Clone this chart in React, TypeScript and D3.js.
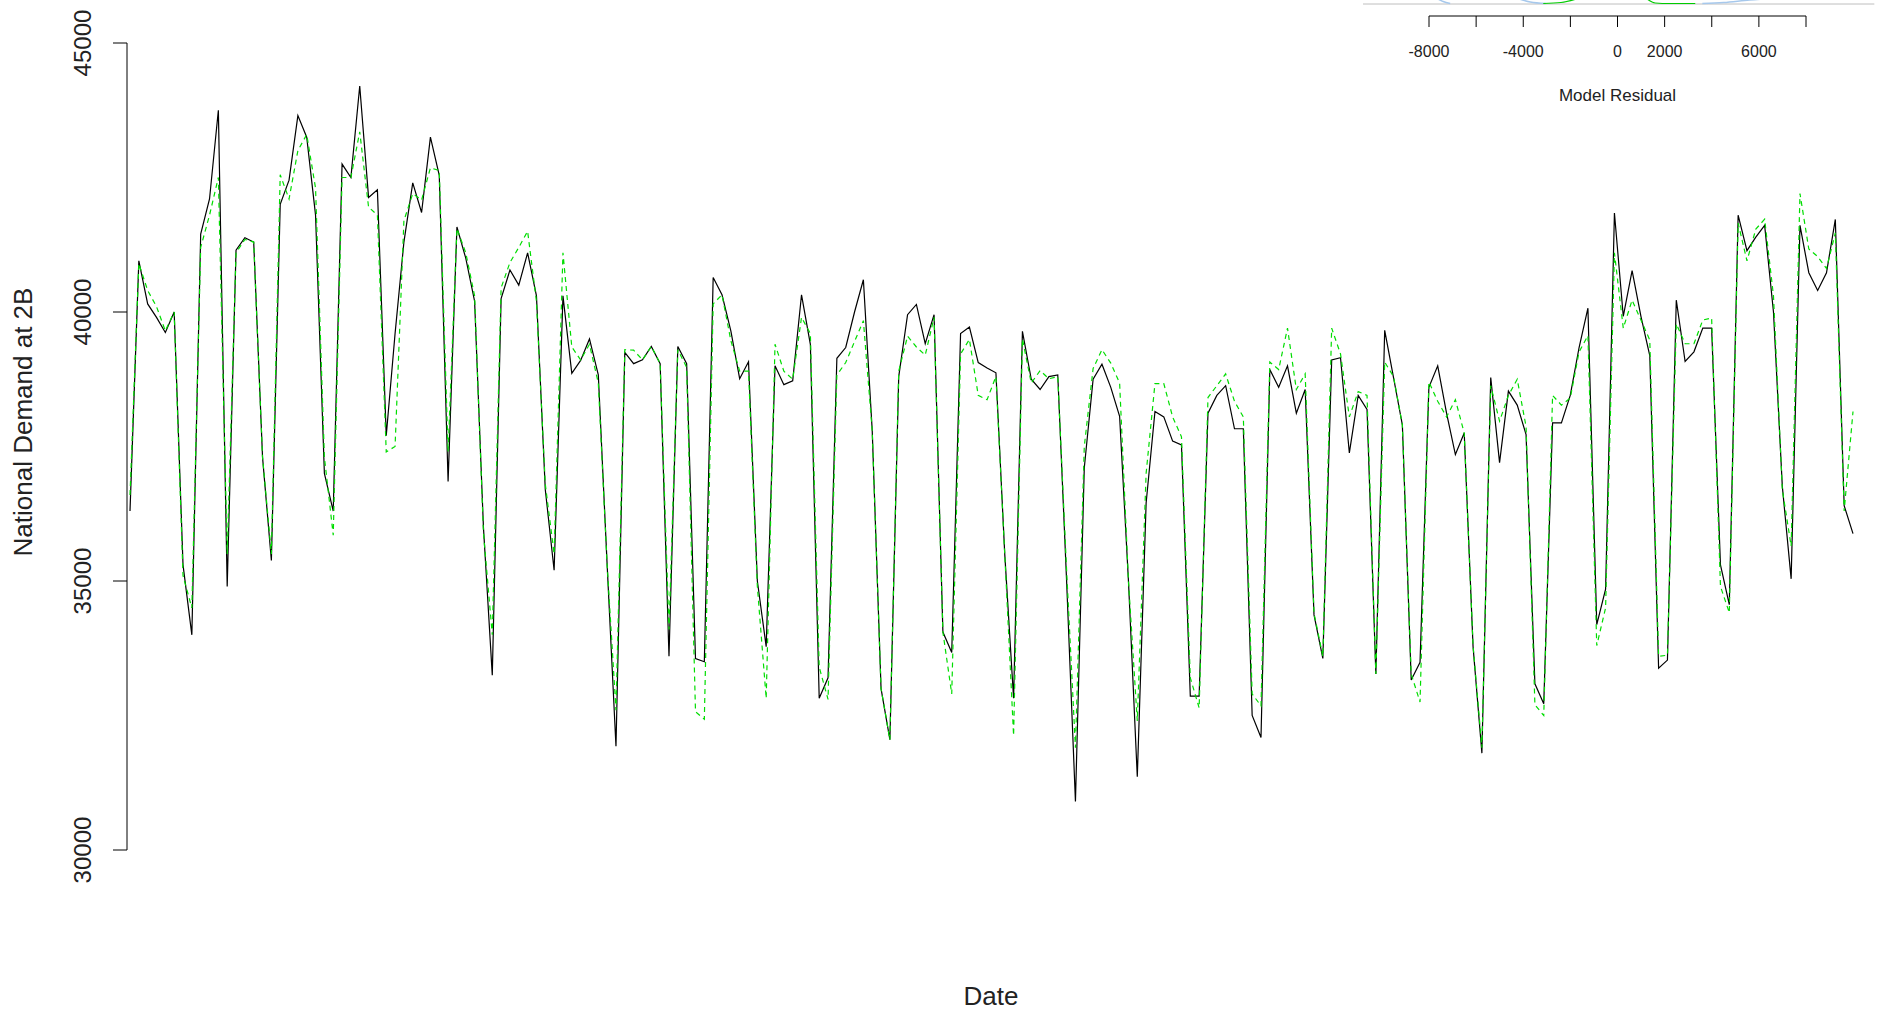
import React from "react";
import * as d3 from "d3";

// National demand (actual) per observation index
const actual: number[] = [
  36300, 40950, 40150, 39900, 39620, 40000, 35300, 34000, 41450, 42100,
  43750, 34900, 41150, 41380, 41300, 37300, 35380, 42000, 42450, 43650,
  43250, 41800, 37000, 36300, 42750, 42500, 44200, 42130, 42270, 37700,
  39600, 41300, 42400, 41850, 43250, 42540, 36850, 41580, 41000, 40200,
  36000, 33250, 40250, 40780, 40500, 41100, 40300, 36700, 35200, 40300,
  38860, 39100, 39500, 38830, 35300, 31930, 39250, 39040, 39110, 39360,
  39040, 33600, 39360, 39040, 33560, 33500, 40640, 40320, 39650, 38760,
  39075, 35000, 33780, 39000, 38650, 38720, 40320, 39400, 32820, 33200,
  39140, 39340, 40000, 40600, 37800, 33000, 32050, 38800, 39950, 40140,
  39410, 39950, 34050, 33670, 39600, 39720, 39060, 38960, 38870, 35500,
  32820, 39640, 38750, 38560, 38800, 38830, 35000, 30900, 37100, 38750,
  39030, 38600, 38060, 35000, 31360, 36450, 38150, 38050, 37600, 37530,
  32860, 32860, 38120, 38450, 38630, 37830, 37830, 32500, 32090, 38930,
  38600, 39000, 38120, 38560, 34370, 33560, 39110, 39150, 37380, 38450,
  38190, 33270, 39660, 38780, 37900, 33160, 33490, 38600, 39000, 38120,
  37350, 37750, 33780, 31800, 38780, 37200, 38530, 38270, 37720, 33090,
  32720, 37940, 37940, 38450, 39340, 40070, 34190, 34850, 41840, 39920,
  40770, 39920, 39190, 33380, 33530, 40220, 39080, 39260, 39700, 39700,
  35300, 34560, 41800, 41140, 41390, 41610, 40000, 36760, 35040, 41610,
  40730, 40400, 40730, 41720, 36400, 35880,
];

// Model fitted values per observation index
const fitted: number[] = [
  36600, 40900, 40400, 40100, 39650, 40000, 35100, 34500, 41200, 41800,
  42500, 35500, 41100, 41350, 41300, 37300, 35500, 42550, 42100, 43000,
  43300, 42300, 37300, 35850, 42500, 42500, 43350, 41950, 41800, 37400,
  37500, 41700, 42200, 42080, 42680, 42630, 37400, 41550, 41100, 40300,
  35900, 34000, 40450, 40920, 41200, 41500, 40200, 36800, 35500, 41100,
  39350, 39110, 39400, 38680, 35300, 32600, 39300, 39290, 39110, 39360,
  39040, 34100, 39300, 38970, 32570, 32430, 40150, 40320, 39470, 38900,
  38900, 34900, 32820, 39400, 38900, 38750, 39900, 39600, 33400, 32800,
  38830, 39060, 39450, 39840, 37800, 33000, 32050, 38900, 39550, 39350,
  39200, 39900, 34050, 32900, 39220, 39490, 38450, 38370, 38800, 35500,
  32130, 39500, 38680, 38910, 38760, 38800, 35200, 31900, 37500, 38950,
  39300, 39050, 38680, 35000, 32400, 37000, 38670, 38670, 38050, 37680,
  33200, 32640, 38410, 38630, 38850, 38340, 38050, 32900, 32680, 39070,
  38930, 39700, 38560, 38850, 34400, 33600, 39700, 39220, 38050, 38520,
  38450, 33270, 39070, 38800, 37900, 33270, 32750, 38700, 38340, 38050,
  38370, 37750, 33800, 31900, 38630, 37970, 38450, 38750, 37870, 32700,
  32500, 38450, 38270, 38400, 39260, 39560, 33800, 34500, 41100, 39700,
  40220, 39850, 39480, 33600, 33620, 39780, 39410, 39410, 39850, 39890,
  34900, 34410, 41650, 40950, 41540, 41725, 40300, 36700, 35650, 42200,
  41170, 41030, 40810, 41470, 36300, 38150,
];

const yTicks: number[] = [30000, 35000, 40000, 45000];

// Inset: residual density axis
const residTicks: number[] = [-8000, -6000, -4000, -2000, 0, 2000, 4000, 6000, 8000];
const residLabels: number[] = [-8000, -4000, 0, 2000, 6000];
const residFrame: number[] = [-10800, 10900];
// visible tails of density curves just above the zero line (residual, density)
const blueTail1: [number, number][] = [[-7700, 0.0000012], [-7400, 0.0000005], [-7100, 0.0000001]];
const blueTail2: [number, number][] = [[-4300, 0.0000012], [-3700, 0.0000004], [-3050, 0.0000001]];
const blueTail3: [number, number][] = [[3600, 0.0000001], [4500, 0.0000003], [5600, 0.0000008], [7000, 0.0000012]];
const greenTail1: [number, number][] = [[-3150, 0.0000001], [-2400, 0.0000003], [-1600, 0.0000012]];
const greenTail2: [number, number][] = [[1200, 0.0000012], [1600, 0.0000002], [2200, 0.0000001], [3300, 0.0000001]];

const FONT = "'Liberation Sans', Arial, Helvetica, sans-serif";

export default function App() {
  const x = d3.scaleLinear().domain([0, actual.length - 1]).range([130, 1853]);
  const y = d3.scaleLinear().domain([30000, 45000]).range([850, 43]);
  const line = d3
    .line<number>()
    .x((_, i) => x(i))
    .y((d) => y(d));

  const rx = d3.scaleLinear().domain([-8000, 8000]).range([1429, 1806]);
  const dy = d3.scaleLinear().domain([0, 0.0000012]).range([4, -2]);
  const dline = d3
    .line<[number, number]>()
    .x((d) => rx(d[0]))
    .y((d) => dy(d[1]))
    .curve(d3.curveMonotoneX);

  return (
    <svg
      width={1878}
      height={1013}
      style={{ position: "fixed", left: 0, top: 0, background: "#fff" }}
      fontFamily={FONT}
    >
      <rect x={0} y={0} width={1878} height={1013} fill="#fff" />
      {/* Y axis */}
      <line x1={127} x2={127} y1={y(45000)} y2={y(30000)} stroke="#000" strokeWidth={1} />
      {yTicks.map((t) => (
        <g key={t}>
          <line x1={113} x2={127} y1={y(t)} y2={y(t)} stroke="#000" strokeWidth={1} />
          <text
            transform={`translate(91,${y(t)}) rotate(-90)`}
            textAnchor="middle"
            fontSize={24}
            fill="#222"
          >
            {t}
          </text>
        </g>
      ))}
      <text
        transform={`translate(32,422) rotate(-90)`}
        textAnchor="middle"
        fontSize={26}
        fill="#222"
      >
        National Demand at 2B
      </text>
      <text x={991} y={1005} textAnchor="middle" fontSize={26} fill="#222">
        Date
      </text>

      {/* series */}
      <path d={line(actual) ?? ""} fill="none" stroke="#000" strokeWidth={1.2} />
      <path
        d={line(fitted) ?? ""}
        fill="none"
        stroke="#00dd00"
        strokeWidth={1.2}
        strokeDasharray="5,4"
      />

      {/* Inset density plot (top cut off) */}
      <line
        x1={rx(residFrame[0])}
        x2={rx(residFrame[1])}
        y1={dy(0)}
        y2={dy(0)}
        stroke="#bebebe"
        strokeWidth={1}
      />
      {[blueTail1, blueTail2, blueTail3].map((t, k) => (
        <path key={"b" + k} d={dline(t) ?? ""} fill="none" stroke="#a6c8ec" strokeWidth={1.5} />
      ))}
      {[greenTail1, greenTail2].map((t, k) => (
        <path key={"g" + k} d={dline(t) ?? ""} fill="none" stroke="#00cc00" strokeWidth={1.2} />
      ))}
      <line x1={rx(-8000)} x2={rx(8000)} y1={16} y2={16} stroke="#000" strokeWidth={1} />
      {residTicks.map((t) => (
        <line key={t} x1={rx(t)} x2={rx(t)} y1={16} y2={27} stroke="#000" strokeWidth={1} />
      ))}
      {residLabels.map((t) => (
        <text key={t} x={rx(t)} y={57} textAnchor="middle" fontSize={16} fill="#222">
          {t}
        </text>
      ))}
      <text x={rx(0)} y={101} textAnchor="middle" fontSize={17} fill="#222">
        Model Residual
      </text>
    </svg>
  );
}
